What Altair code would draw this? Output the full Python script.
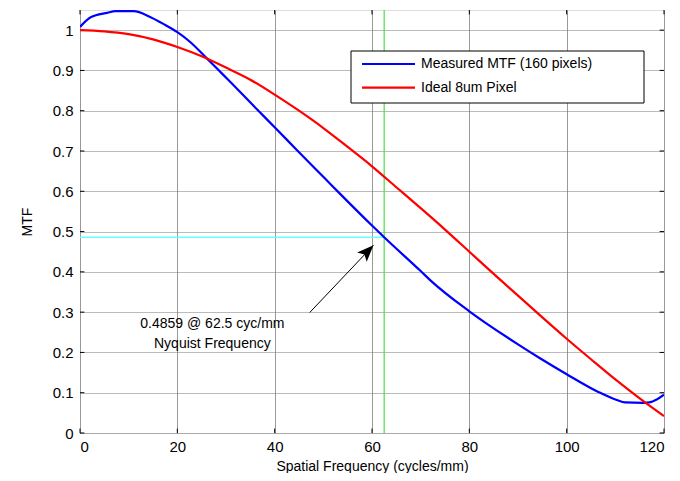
import altair as alt
import pandas as pd

# Measured MTF (blue)
meas_freq = [0, 2.2, 5.6, 7.3, 11, 14.5, 17.2, 20, 22.7, 25.8, 28.2, 30.6, 36.4, 40, 44.6,
             50.4, 53.5, 60, 62.5, 70, 72, 80, 90, 94.6, 100, 106.5, 110.3, 112, 115.7, 117,
             118.5, 120]
meas_mtf = [1.008, 1.032, 1.043, 1.047, 1.047, 1.032, 1.015, 0.995, 0.970, 0.933, 0.904, 0.875,
            0.803, 0.759, 0.702, 0.631, 0.593, 0.515, 0.4859, 0.402, 0.379, 0.302, 0.22, 0.185,
            0.146, 0.102, 0.082, 0.076, 0.075, 0.076, 0.083, 0.095]

# Ideal 8um pixel (red)
ideal_freq = [0, 5, 10, 15, 20, 25, 30, 35, 40, 45, 50, 55, 60, 65, 70, 75, 80, 85, 90, 95,
              100, 105, 110, 115, 120]
ideal_mtf = [1.0, 0.997, 0.99, 0.977, 0.958, 0.935, 0.907, 0.877, 0.840, 0.800, 0.757, 0.710,
             0.662, 0.610, 0.558, 0.505, 0.450, 0.395, 0.341, 0.287, 0.234, 0.183, 0.133, 0.086,
             0.042]

series_names = ["Measured MTF (160 pixels)", "Ideal 8um Pixel"]
series_colors = ["#0000FF", "#FF0000"]

nyquist = 62.5
mtf_at_nyq = 0.4859
note_lines = ["0.4859 @ 62.5 cyc/mm", "Nyquist Frequency"]
note_x = 27.2
note_y = [0.27, 0.222]
arrow_start = (47.2, 0.299)
arrow_end = (60.3, 0.466)

x_ticks = [0, 20, 40, 60, 80, 100, 120]
y_ticks = [0, 0.1, 0.2, 0.3, 0.4, 0.5, 0.6, 0.7, 0.8, 0.9, 1.0]

FONT = "Liberation Sans"

curves = pd.concat([
    pd.DataFrame({"f": meas_freq, "mtf": meas_mtf, "series": series_names[0], "o": range(len(meas_freq))}),
    pd.DataFrame({"f": ideal_freq, "mtf": ideal_mtf, "series": series_names[1], "o": range(len(ideal_freq))}),
])

xs = alt.Scale(domain=[0, 120], nice=False, zero=False)
ys = alt.Scale(domain=[0, 1.05], nice=False, zero=False)
cs = alt.Scale(domain=series_names, range=series_colors)

x_axis = alt.Axis(values=x_ticks, title="Spatial Frequency (cycles/mm)", grid=True,
                  gridColor="#999999", gridWidth=1, ticks=False, domain=False,
                  labelFontSize=15, labelPadding=6, titleFontSize=14, titlePadding=5,
                  titleFontWeight="normal", labelFont=FONT, titleFont=FONT,
                  labelColor="#000", titleColor="#000")
y_axis = alt.Axis(values=y_ticks, title="MTF", grid=True, gridColor="#777777",
                  gridDash=[1, 1], gridWidth=1, ticks=False, domain=False, format=".1~f",
                  labelFontSize=15, labelPadding=7, titleFontSize=14, titlePadding=18,
                  titleFontWeight="normal", labelFont=FONT, titleFont=FONT,
                  labelColor="#000", titleColor="#000")

lines = alt.Chart(curves).mark_line(strokeWidth=2.2, clip=True, interpolate="monotone").encode(
    x=alt.X("f:Q", scale=xs, axis=x_axis),
    y=alt.Y("mtf:Q", scale=ys, axis=y_axis),
    color=alt.Color("series:N", scale=cs, legend=None),
    order="o:Q",
)

hline = alt.Chart(pd.DataFrame({"x0": [0], "x1": [nyquist], "y": [mtf_at_nyq]})).mark_rule(
    color="#66FFFF", strokeWidth=1.5).encode(
    x=alt.X("x0:Q", scale=xs), x2="x1:Q", y=alt.Y("y:Q", scale=ys))

vline = alt.Chart(pd.DataFrame({"x": [nyquist], "y0": [0], "y1": [1.05]})).mark_rule(
    color="#44E044", strokeWidth=1.2).encode(
    x=alt.X("x:Q", scale=xs), y=alt.Y("y0:Q", scale=ys), y2="y1:Q")

tick_df_x = pd.DataFrame({"v": x_ticks})
tick_df_y = pd.DataFrame({"v": y_ticks})
ticks_bottom = alt.Chart(tick_df_x).mark_rule(color="#000").encode(
    x=alt.X("v:Q", scale=xs), y=alt.datum(0, scale=ys), y2=alt.datum(0.011))
ticks_top = alt.Chart(tick_df_x).mark_rule(color="#000").encode(
    x=alt.X("v:Q", scale=xs), y=alt.datum(1.05, scale=ys), y2=alt.datum(1.039))
ticks_left = alt.Chart(tick_df_y).mark_rule(color="#000").encode(
    y=alt.Y("v:Q", scale=ys), x=alt.datum(0, scale=xs), x2=alt.datum(0.9))
ticks_right = alt.Chart(tick_df_y).mark_rule(color="#000").encode(
    y=alt.Y("v:Q", scale=ys), x=alt.datum(120, scale=xs), x2=alt.datum(119.1))

arrow_line = alt.Chart(pd.DataFrame({"x0": [arrow_start[0]], "y0": [arrow_start[1]],
                                     "x1": [arrow_end[0]], "y1": [arrow_end[1]]})).mark_rule(
    color="#000", strokeWidth=1).encode(
    x=alt.X("x0:Q", scale=xs), y=alt.Y("y0:Q", scale=ys), x2="x1:Q", y2="y1:Q")

arrow_head = alt.Chart(pd.DataFrame({"x": [arrow_end[0]], "y": [arrow_end[1]]})).mark_point(
    shape="M0,0 L-0.4,1 L0,0.78 L0.4,1 Z", filled=True, color="#000", opacity=1,
    size=1100, angle=44).encode(
    x=alt.X("x:Q", scale=xs), y=alt.Y("y:Q", scale=ys))

note = alt.Chart(pd.DataFrame({"x": [note_x, note_x], "y": note_y, "t": note_lines})).mark_text(
    fontSize=14, font=FONT, color="#000", align="center", baseline="middle").encode(
    x=alt.X("x:Q", scale=xs), y=alt.Y("y:Q", scale=ys), text="t:N")

# Legend box drawn by hand (plot-area pixel offsets)
leg_box = alt.Chart(pd.DataFrame({"a": [0]})).mark_rect(
    fill="#ffffff", stroke="#000000", strokeWidth=1).encode(
    x=alt.value(271), x2=alt.value(564), y=alt.value(41), y2=alt.value(93))
leg_items = []
for i, name in enumerate(series_names):
    yy = 54 + i * 23.7
    d = pd.DataFrame({"series": [name]})
    leg_items.append(alt.Chart(d).mark_rule(strokeWidth=2.2).encode(
        x=alt.value(282), x2=alt.value(335), y=alt.value(yy),
        color=alt.Color("series:N", scale=cs, legend=None)))
    leg_items.append(alt.Chart(d).mark_text(
        fontSize=14, font=FONT, color="#000", align="left", baseline="middle").encode(
        x=alt.value(341), y=alt.value(yy), text="series:N"))

chart = alt.layer(
    hline, vline, ticks_bottom, ticks_top, ticks_left, ticks_right,
    lines, arrow_line, arrow_head, note, leg_box, *leg_items
).properties(
    width=584, height=423,
    autosize=alt.AutoSizeParams(type="none"),
    padding={"left": 72, "top": 2, "right": 8, "bottom": 40},
).configure_view(
    stroke="#000", strokeWidth=1
).configure(background="#ffffff")

chart.save("out.html", embed_options={"renderer": "svg", "actions": False})
